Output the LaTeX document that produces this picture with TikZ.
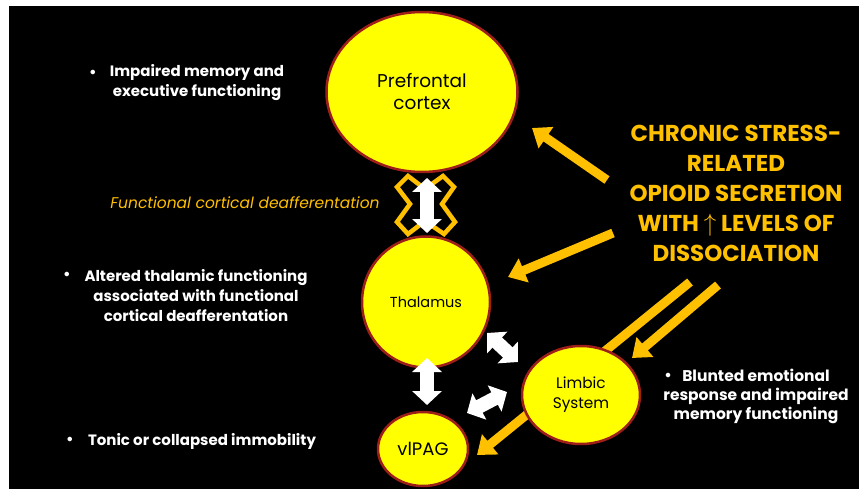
\documentclass[tikz,border=0pt]{standalone}
\usepackage{fontspec}
\setmainfont{Poppins}
\usetikzlibrary{arrows.meta,shapes.geometric,positioning}
\definecolor{gold}{HTML}{FFC000}
\definecolor{rim}{HTML}{9E1F1A}
\definecolor{lemon}{HTML}{FFFF00}

\begin{document}
\begin{tikzpicture}[
    x=1pt, y=-1pt,
    region/.style={ellipse, draw=rim, line width=2.5pt, fill=lemon,
        text=black, align=center, inner sep=0pt},
    note/.style={text=white, align=center,
        font=\bfseries\fontsize{15}{20}\selectfont},
    dot/.style={text=white, font=\bfseries\fontsize{15}{20}\selectfont},
    push/.style={draw=gold, line width=9pt,
        -{Triangle[length=17pt,width=25pt]}},
    link/.style={draw=white, line width=14pt,
        {Triangle[length=14pt,width=29pt]}-{Triangle[length=14pt,width=29pt]}}
]

% Canvas
\fill[white] (0,0) rectangle (859,489);
\fill[black] (9,6) rectangle (859,489);
\useasboundingbox (0,0) rectangle (859,489);

% Ends of the connectors
\coordinate (srcA) at (607,180);
\coordinate (srcB) at (613,233);
\coordinate (srcC) at (690,282);
\coordinate (srcD) at (718,285);
\coordinate (pfcIn) at (532,128);
\coordinate (thalIn) at (508,277);
\coordinate (pagIn) at (477,455);
\coordinate (limbIn) at (632,358);

% Long arrow running behind the limbic system
\draw[push] (srcC) -- (pagIn);

% Regions
\node[region, minimum width=191pt, minimum height=160pt,
    font=\fontsize{18.5}{22}\selectfont] (pfc) at (422,92)
    {Prefrontal\\cortex};
\node[region, minimum width=128pt, minimum height=131pt,
    font=\fontsize{14.5}{17}\selectfont] (thal) at (426,302)
    {Thalamus};
\node[region, minimum width=118pt, minimum height=98pt,
    font=\fontsize{15.3}{20}\selectfont] (limb) at (581,395)
    {Limbic\\System};
\node[region, minimum width=90pt, minimum height=74pt,
    font=\fontsize{18}{20}\selectfont] (pag) at (423,449)
    {vlPAG};

% Source text
\node[text=gold, align=center,
    font=\bfseries\fontsize{23}{30}\selectfont] (stress) at (736,193)
    {CHRONIC STRESS-\\RELATED\\OPIOID SECRETION\\
     WITH \smash{$\uparrow$} LEVELS OF\\DISSOCIATION};

\draw[push] (srcA) -- (pfcIn);
\draw[push] (srcB) -- (thalIn);
\draw[push] (srcD) -- (limbIn);

% Deafferentation mark
\draw[gold, line width=4.5pt, fill=black, line join=miter]
    (408,176) -- (425,189) -- (443,176) -- (454,187) -- (442,204)
    -- (455,222) -- (444,234) -- (425,221) -- (408,234) -- (397,222)
    -- (410,204) -- (397,187) -- cycle;
\node[text=gold, font=\itshape\fontsize{15.5}{18}\selectfont] (deaff)
    at (245,203) {Functional cortical deafferentation};

% Two-way links
\coordinate (linkAt) at (427,178);
\coordinate (linkAb) at (427,233);
\coordinate (linkBt) at (427,358);
\coordinate (linkBb) at (427,405);
\coordinate (linkCs) at (487,333);
\coordinate (linkCe) at (518,362);
\coordinate (linkDs) at (467,413);
\coordinate (linkDe) at (507,392);
\draw[link] (linkAt) -- (linkAb);
\draw[link] (linkBt) -- (linkBb);
\draw[link] (linkCs) -- (linkCe);
\draw[link] (linkDs) -- (linkDe);

% Notes
\node[dot] (dotPfc) at (93,74) {\textbullet};
\node[note] (notePfc) at (197,83)
    {Impaired memory and\\executive functioning};
\node[dot] (dotThal) at (67,276) {\textbullet};
\node[note] (noteThal) at (196,296)
    {Altered thalamic functioning\\associated with functional\\
     cortical deafferentation};
\node[dot] (dotLimb) at (668,377) {\textbullet};
\node[note, font=\bfseries\fontsize{15.5}{19}\selectfont] (noteLimb)
    at (756,396)
    {Blunted emotional\\response and impaired\\memory functioning};
\node[dot] (dotPag) at (70,441) {\textbullet};
\node[note] (notePag) at (202,441)
    {Tonic or collapsed immobility};

\end{tikzpicture}
\end{document}
